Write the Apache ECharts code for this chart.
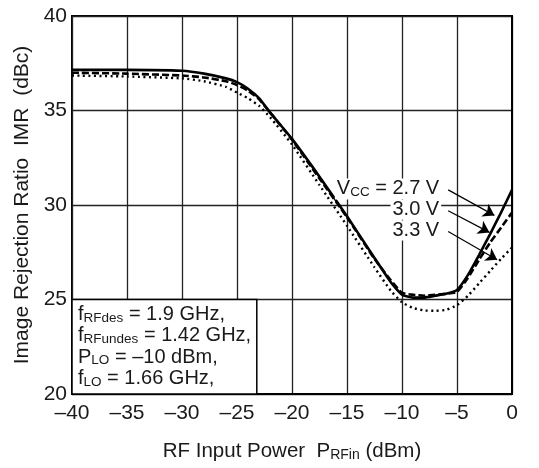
<!DOCTYPE html>
<html>
<head>
<meta charset="utf-8">
<script src="https://cdn.jsdelivr.net/npm/echarts@6/dist/echarts.min.js"></script>
<style>
html, body { margin: 0; padding: 0; background: #fff; }
#main { width: 539px; height: 468px; }
</style>
</head>
<body>
<div id="main"></div>
<script>
// RF input power (dBm) and IMR (dBc)
var pin = [-40, -35, -30, -28, -26, -25, -24, -23, -22, -20, -17.5, -15, -12.5, -11, -10, -9, -8, -7, -6, -5, -4, -3, -2, -1, 0];
var imr27 = [37.15, 37.15, 37.1, 36.95, 36.7, 36.5, 36.15, 35.65, 34.9, 33.5, 31.5, 29.4, 27.2, 25.9, 25.25, 25.1, 25.1, 25.2, 25.3, 25.5, 26.3, 27.35, 28.45, 29.6, 30.8];
var imr30 = [37.0, 36.95, 36.85, 36.75, 36.55, 36.35, 36.05, 35.6, 34.9, 33.45, 31.4, 29.35, 27.15, 26.0, 25.35, 25.25, 25.2, 25.25, 25.3, 25.4, 26.15, 27.1, 28.0, 28.8, 29.6];
var imr33 = [36.85, 36.8, 36.7, 36.55, 36.25, 35.95, 35.65, 35.25, 34.65, 33.2, 31.05, 28.9, 26.7, 25.45, 24.85, 24.55, 24.42, 24.4, 24.45, 24.7, 25.2, 25.85, 26.5, 27.15, 27.75];
var xTicks = [-40, -35, -30, -25, -20, -15, -10, -5, 0];
var yTicks = [20, 25, 30, 35, 40];
var vccLabels = ['2.7 V', '3.0 V', '3.3 V'];
// arrows: label end -> curve
var arrowFrom = [[-5.8, 30.8], [-5.8, 29.7], [-5.8, 28.6]];
var arrowTo = [[-1.6, 29.45], [-2.05, 28.55], [-1.35, 27.1]];

function pairs(xs, ys) {
  var out = [];
  for (var i = 0; i < xs.length; i++) out.push([xs[i], ys[i]]);
  return out;
}
function minus(v) { return String(v).replace('-', '\u2013'); }

var font = 'Liberation Sans, Arial, Helvetica, sans-serif';
var ink = '#1a1a1a';

var myChart = echarts.init(document.getElementById('main'));

var arrowLines = [];
for (var i = 0; i < arrowFrom.length; i++) {
  arrowLines.push([{ coord: arrowFrom[i] }, { coord: arrowTo[i] }]);
}

option = {
  animation: false,
  grid: { left: 72, right: 27, top: 16, bottom: 74, outerBoundsMode: 'none', containLabel: false,
    show: true, borderColor: '#000', borderWidth: 2 },
  xAxis: {
    type: 'value', min: -40, max: 0, interval: 5,
    name: 'RF Input Power  P{s|RFin} (dBm)',
    nameLocation: 'middle', nameGap: 47,
    nameTextStyle: { fontFamily: font, fontSize: 20.5, color: ink,
      rich: { s: { fontFamily: font, fontSize: 14, color: ink, verticalAlign: 'bottom', padding: [7, 0, 0, 0] } } },
    axisLine: { show: true, lineStyle: { color: '#000', width: 2 } },
    axisTick: { show: false },
    axisLabel: { fontFamily: font, fontSize: 21, color: ink, margin: 9, formatter: function (v) { return minus(v); } },
    splitLine: { show: true, lineStyle: { color: '#222', width: 1.3 } }
  },
  yAxis: {
    type: 'value', min: 20, max: 40, interval: 5,
    name: 'Image Rejection Ratio  IMR  (dBc)',
    nameLocation: 'middle', nameGap: 39,
    nameTextStyle: { fontFamily: font, fontSize: 21, color: ink },
    axisLine: { show: true, lineStyle: { color: '#000', width: 2 } },
    axisTick: { show: false },
    axisLabel: { fontFamily: font, fontSize: 21, color: ink, margin: 5 },
    splitLine: { show: true, lineStyle: { color: '#222', width: 1.3 } }
  },
  series: [
    {
      name: '2.7 V', type: 'line', data: pairs(pin, imr27), showSymbol: false,
      smooth: 0.15,
      lineStyle: { color: '#000', width: 2.6 }, z: 5,
      markArea: {
        silent: true,
        itemStyle: { color: '#fff', borderColor: '#000', borderWidth: 1.5 },
        data: [[{ coord: [-40, 20] }, { coord: [-23.2, 25] }]]
      }
    },
    {
      name: '3.0 V', type: 'line', data: pairs(pin, imr30), showSymbol: false,
      smooth: 0.15,
      lineStyle: { color: '#000', width: 2.6, type: [7, 3] }, z: 4
    },
    {
      name: '3.3 V', type: 'line', data: pairs(pin, imr33), showSymbol: false,
      smooth: 0.15,
      lineStyle: { color: '#000', width: 2.4, type: [2, 3.5] }, z: 3
    },
    {
      name: 'arrows', type: 'line', data: [], z: 10,
      markLine: {
        silent: true, symbol: ['none', 'arrow'], symbolSize: 11,
        itemStyle: { color: '#000' },
        lineStyle: { color: '#000', width: 1.2, type: 'solid' },
        label: { show: false },
        data: arrowLines
      }
    }
  ]
};

myChart.setOption(option);

// annotation texts placed from data coordinates
function px(p) { return myChart.convertToPixel({ gridIndex: 0 }, p); }
var subStyle = { fontFamily: font, fontSize: 13.5, color: ink, verticalAlign: 'bottom', padding: [7, 0, 0, 0] };
var boxLines = [
  'f{s|RFdes} = 1.9 GHz,',
  'f{s|RFundes} = 1.42 GHz,',
  'P{s|LO} = \u201310 dBm,',
  'f{s|LO} = 1.66 GHz,'
];
var boxOrigin = px([-40, 25]);
var elements = [];
for (var k = 0; k < boxLines.length; k++) {
  elements.push({
    type: 'text', z: 100,
    style: {
      x: boxOrigin[0] + 6, y: boxOrigin[1] + 15 + k * 21.3,
      text: boxLines[k], verticalAlign: 'middle', align: 'left',
      font: '20px ' + font, fill: ink,
      rich: { s: subStyle }
    }
  });
}
var vccText = ['V{s|CC} = ' + vccLabels[0], vccLabels[1], vccLabels[2]];
for (var m = 0; m < vccText.length; m++) {
  var p = px(arrowFrom[m]);
  elements.push({
    type: 'text', z: 100,
    style: {
      x: p[0] - 7, y: p[1] - 1,
      text: vccText[m], verticalAlign: 'middle', align: 'right',
      font: '20px ' + font, fill: ink, backgroundColor: '#fff', padding: [0, 2, 0, 2],
      rich: { s: subStyle }
    }
  });
}
myChart.setOption({ graphic: { elements: elements } });
</script>
</body>
</html>
